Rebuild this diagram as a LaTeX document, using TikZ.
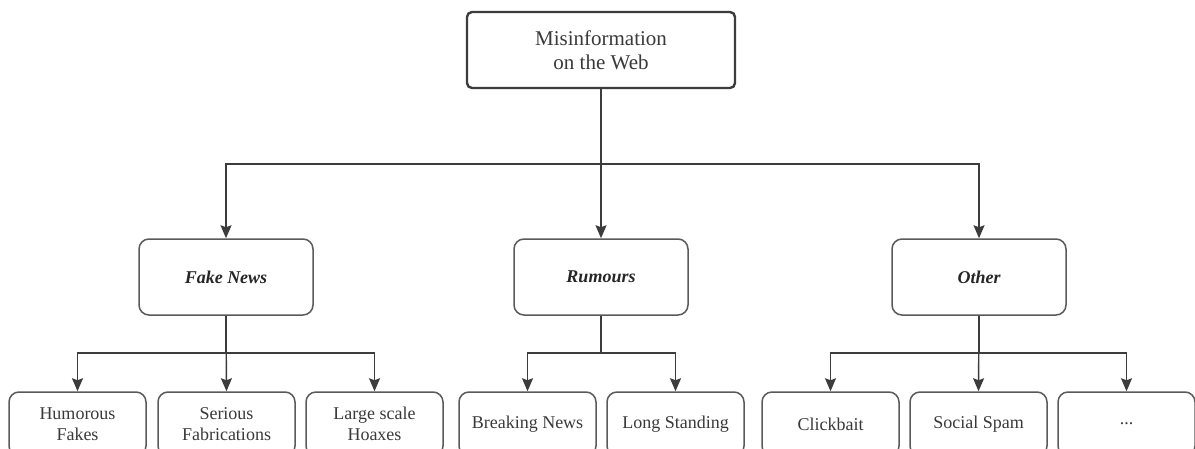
\documentclass[tikz,border=0pt]{standalone}
\usepackage{fontspec}
\setmainfont{Liberation Serif}
\usetikzlibrary{arrows.meta}
\definecolor{txt}{HTML}{3A3A3A}
\definecolor{edge}{HTML}{5A5A5A}
\definecolor{conn}{HTML}{3C3C3C}
\tikzset{
  topbox/.style={draw=conn, line width=2.4pt, rounded corners=5pt, minimum width=268pt, minimum height=76pt, align=center, text=txt, font=\fontsize{21}{24}\selectfont, inner sep=0pt},
  midbox/.style={draw=edge, line width=1.5pt, rounded corners=10pt, minimum width=174pt, minimum height=76pt, align=center, text=black!85, font=\fontsize{18}{21}\selectfont\bfseries\itshape, inner sep=0pt},
  leafbox/.style={draw=edge, line width=1.5pt, rounded corners=10pt, minimum width=137pt, minimum height=64pt, align=center, text=txt, font=\fontsize{18}{21}\selectfont, inner sep=0pt},
  link/.style={draw=conn, line width=1.4pt},
  arr/.style={link, -{Stealth[length=13pt,width=11pt,inset=2pt]}},
}
\begin{document}
\begin{tikzpicture}[x=1pt,y=-1pt]
\useasboundingbox (0,0) rectangle (1195,448);
\clip (0,0) rectangle (1195,448);
\fill[white] (0,0) rectangle (1195,448);
% top
\node[topbox] (top) at (601,50) {Misinformation\\on the Web};
% level 2
\node[midbox] (fake) at (226,277) {Fake News};
\node[midbox] (rum) at (601,277) {Rumours};
\node[midbox] (oth) at (979,277) {Other};
% level 3
\node[leafbox] (hum) at (77.5,424) {Humorous\\Fakes};
\node[leafbox] (ser) at (226.5,424) {Serious\\Fabrications};
\node[leafbox] (lar) at (374.5,424) {Large scale\\Hoaxes};
\node[leafbox] (brk) at (527.5,424) {Breaking News};
\node[leafbox] (lng) at (675.5,424) {Long Standing};
\node[leafbox] (clk) at (830.5,424) {Clickbait};
\node[leafbox] (spm) at (978.5,424) {Social Spam};
\node[leafbox] (dots) at (1126.5,424) {...};
% connectors top -> level 2
\coordinate (j1) at (601,164);
\draw[arr] (top.south) -- (rum.north);
\draw[arr] (j1) -| (fake.north);
\draw[arr] (j1) -| (oth.north);
% fake news
\coordinate (jf) at (226,353);
\draw[link] (fake.south) -- (jf);
\draw[arr] (jf) -| (hum.north);
\draw[arr] (jf) -| (lar.north);
\draw[arr] (fake.south) -- (ser.north);
% rumours
\coordinate (jr) at (601,353);
\draw[link] (rum.south) -- (jr);
\draw[arr] (jr) -| (brk.north);
\draw[arr] (jr) -| (lng.north);
% other
\coordinate (jo) at (979,353);
\draw[link] (oth.south) -- (jo);
\draw[arr] (jo) -| (clk.north);
\draw[arr] (jo) -| (dots.north);
\draw[arr] (oth.south) -- (spm.north);
\end{tikzpicture}
\end{document}
